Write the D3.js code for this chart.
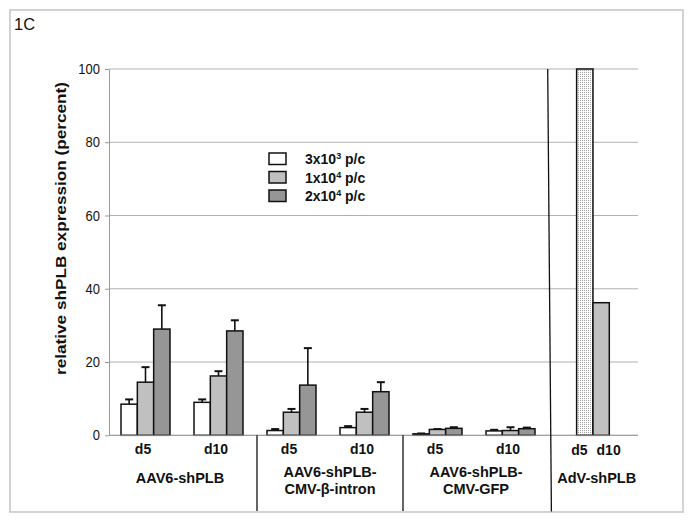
<!DOCTYPE html>
<html><head><meta charset="utf-8">
<script src="https://cdn.jsdelivr.net/npm/d3@7/dist/d3.min.js"></script>
<style>
html,body{margin:0;padding:0;background:#fff;}
svg{display:block;}
text{font-family:"Liberation Sans",Arial,Helvetica,sans-serif;}
</style></head>
<body>
<script>
// ---- data ----
const panelLabel = "1C";
const yTitle = "relative shPLB expression (percent)";
const yTicks = [0, 20, 40, 60, 80, 100];
const categories = ["AAV6-shPLB d5", "AAV6-shPLB d10", "β-intron d5", "β-intron d10", "GFP d5", "GFP d10", "AdV"];
const dayLabels = ["d5", "d10", "d5", "d10", "d5", "d10"];
const groupLabels = [["AAV6-shPLB"], ["AAV6-shPLB-", "CMV-β-intron"], ["AAV6-shPLB-", "CMV-GFP"], ["AdV-shPLB"]];
const seriesNames = ["3x10|3| p/c", "1x10|4| p/c", "2x10|4| p/c"];
const dose3e3 = [8.5, 9.0, 1.3, 2.1, 0.4, 1.2];
const dose3e3Err = [9.8, 9.8, 1.7, 2.5, 0.5, 1.5];
const dose1e4 = [14.5, 16.2, 6.3, 6.3, 1.6, 1.3];
const dose1e4Err = [18.6, 17.5, 7.2, 7.2, 1.7, 2.2];
const dose2e4 = [29.0, 28.5, 13.7, 11.9, 1.9, 1.8];
const dose2e4Err = [35.5, 31.4, 23.8, 14.5, 2.2, 2.1];
const advDays = ["d5", "d10"];
const advValues = [100, 36.2];

const W = 694, H = 520;
const svg = d3.select("body").append("svg").attr("width", W).attr("height", H);

const defs = svg.append("defs");
const pat = defs.append("pattern").attr("id", "stip").attr("width", 2).attr("height", 2).attr("patternUnits", "userSpaceOnUse");
pat.append("rect").attr("width", 2).attr("height", 2).attr("fill", "#fff");
pat.append("rect").attr("width", 1).attr("height", 1).attr("fill", "#a0a0a0");

// frame
svg.append("rect").attr("x", 10).attr("y", 10).attr("width", 673).attr("height", 502)
  .attr("fill", "#fff").attr("stroke", "#c8c8c8").attr("stroke-width", 1.6);

svg.append("text").attr("x", 14).attr("y", 30).attr("font-size", 16.5).attr("fill", "#111").text(panelLabel);

const y = d3.scaleLinear().domain([0, 100]).range([435.3, 69]);
const x = d3.scaleBand().domain(categories).range([109, 620]).paddingInner(24 / 73).paddingOuter(12 / 73);
const xs = d3.scaleBand().domain(seriesNames).range([0, x.bandwidth()]);
const plotRight = 638;

// gridlines
svg.append("g").selectAll("line").data(yTicks).join("line")
  .attr("x1", 109).attr("x2", plotRight)
  .attr("y1", d => y(d)).attr("y2", d => y(d))
  .attr("stroke", "#b0b0b0").attr("stroke-width", 1);

// y axis
const yAxis = svg.append("g").attr("transform", "translate(109,0)")
  .call(d3.axisLeft(y).tickValues(yTicks).tickSize(4).tickSizeOuter(0).tickPadding(5));
yAxis.select(".domain").attr("stroke", "#999");
yAxis.selectAll(".tick line").attr("stroke", "#999");
yAxis.selectAll(".tick text").attr("font-size", 13).attr("fill", "#111")
  .attr("font-family", "'Liberation Sans',Arial,sans-serif").attr("transform", "scale(1,1.12)");

// y title
svg.append("text")
  .attr("transform", `translate(66,${(82 + 375) / 2}) rotate(-90)`)
  .attr("text-anchor", "middle").attr("font-size", 14).attr("font-weight", "bold").attr("fill", "#111")
  .attr("textLength", 293).attr("lengthAdjust", "spacingAndGlyphs")
  .text(yTitle);

// bars
const fills = ["#ffffff", "#c0c0c0", "#969696"];
const vals = [dose3e3, dose1e4, dose2e4];
const errs = [dose3e3Err, dose1e4Err, dose2e4Err];
const barData = [];
dayLabels.forEach((d, i) => {
  seriesNames.forEach((s, j) => {
    barData.push({ cat: categories[i], s, v: vals[j][i], e: errs[j][i], fill: fills[j] });
  });
});
const gBars = svg.append("g");
const gErr = gBars.append("g");
gErr.selectAll("line.v").data(barData).join("line").attr("class", "v")
  .attr("x1", d => x(d.cat) + xs(d.s) + xs.bandwidth() / 2)
  .attr("x2", d => x(d.cat) + xs(d.s) + xs.bandwidth() / 2)
  .attr("y1", d => y(d.v)).attr("y2", d => y(d.e))
  .attr("stroke", "#111").attr("stroke-width", 1.6);
gErr.selectAll("line.c").data(barData).join("line").attr("class", "c")
  .attr("x1", d => x(d.cat) + xs(d.s) + xs.bandwidth() / 2 - 4)
  .attr("x2", d => x(d.cat) + xs(d.s) + xs.bandwidth() / 2 + 4)
  .attr("y1", d => y(d.e)).attr("y2", d => y(d.e))
  .attr("stroke", "#111").attr("stroke-width", 2);
gBars.selectAll("rect").data(barData).join("rect")
  .attr("x", d => x(d.cat) + xs(d.s))
  .attr("width", xs.bandwidth())
  .attr("y", d => y(d.v))
  .attr("height", d => y(0) - y(d.v))
  .attr("fill", d => d.fill).attr("stroke", "#111").attr("stroke-width", 1.5);

// AdV bars
const advCat = categories[6];
const advFills = ["url(#stip)", "#c0c0c0"];
const advSlots = [seriesNames[1], seriesNames[2]];
svg.append("g").selectAll("rect").data(advValues).join("rect")
  .attr("x", (d, i) => x(advCat) + xs(advSlots[i]) + 1.3)
  .attr("width", xs.bandwidth())
  .attr("y", d => y(d)).attr("height", d => y(0) - y(d))
  .attr("fill", (d, i) => advFills[i]).attr("stroke", "#111").attr("stroke-width", 1.5);

// x axis baseline
svg.append("line").attr("x1", 109).attr("x2", plotRight).attr("y1", y(0)).attr("y2", y(0))
  .attr("stroke", "#999").attr("stroke-width", 1);

// separators
const boundary = i => (x(categories[i - 1]) + x.bandwidth() + x(categories[i])) / 2 + 2;
[2, 4].forEach(i => {
  svg.append("line").attr("x1", boundary(i)).attr("x2", boundary(i))
    .attr("y1", y(0)).attr("y2", 511).attr("stroke", "#111").attr("stroke-width", 1.3);
});
svg.append("line").attr("x1", boundary(6) - 1.3).attr("x2", boundary(6) + 2.4)
  .attr("y1", y(100)).attr("y2", 511.5).attr("stroke", "#111").attr("stroke-width", 1.3);

// day labels
svg.append("g").selectAll("text").data(dayLabels).join("text")
  .attr("x", (d, i) => x(categories[i]) + x.bandwidth() / 2 - 2.5)
  .attr("y", 454).attr("text-anchor", "middle")
  .attr("font-size", 14).attr("font-weight", "bold").attr("fill", "#111").text(d => d);
const advOffsets = [-5.5, 7.5];
svg.append("g").selectAll("text").data(advDays).join("text")
  .attr("x", (d, i) => x(advCat) + xs(advSlots[i]) + 1.3 + xs.bandwidth() / 2 + advOffsets[i])
  .attr("y", 455).attr("text-anchor", "middle")
  .attr("font-size", 14).attr("font-weight", "bold").attr("fill", "#111").text(d => d);

// group labels
const groupCenters = [
  (x(categories[0]) + x(categories[1]) + x.bandwidth()) / 2 - 2,
  (x(categories[2]) + x(categories[3]) + x.bandwidth()) / 2 + 2,
  (x(categories[4]) + x(categories[5]) + x.bandwidth()) / 2 + 2,
  x(advCat) + xs(advSlots[0]) + xs.bandwidth() + 5
];
groupLabels.forEach((lines, gi) => {
  const t = svg.append("text").attr("text-anchor", "middle")
    .attr("font-size", 14.5).attr("font-weight", "bold").attr("fill", "#111");
  if (lines.length === 1) {
    t.append("tspan").attr("x", groupCenters[gi]).attr("y", 482.5).text(lines[0]);
  } else {
    lines.forEach((l, k) => t.append("tspan").attr("x", groupCenters[gi]).attr("y", 477 + k * 17).text(l));
  }
});

// legend
const lg = svg.append("g").attr("transform", "translate(269,153)");
seriesNames.forEach((s, i) => {
  const row = lg.append("g").attr("transform", `translate(0,${i * 18.5})`);
  row.append("rect").attr("width", 17).attr("height", 11.5)
    .attr("fill", fills[i]).attr("stroke", "#111").attr("stroke-width", 1.5);
  const parts = s.split("|");
  const t = row.append("text").attr("x", 36).attr("y", 11)
    .attr("font-size", 14).attr("font-weight", "bold").attr("fill", "#111");
  t.append("tspan").text(parts[0]);
  t.append("tspan").attr("font-size", 9).attr("dy", -5).text(parts[1]);
  t.append("tspan").attr("dy", 5).text(parts[2]);
});
</script>
</body></html>
